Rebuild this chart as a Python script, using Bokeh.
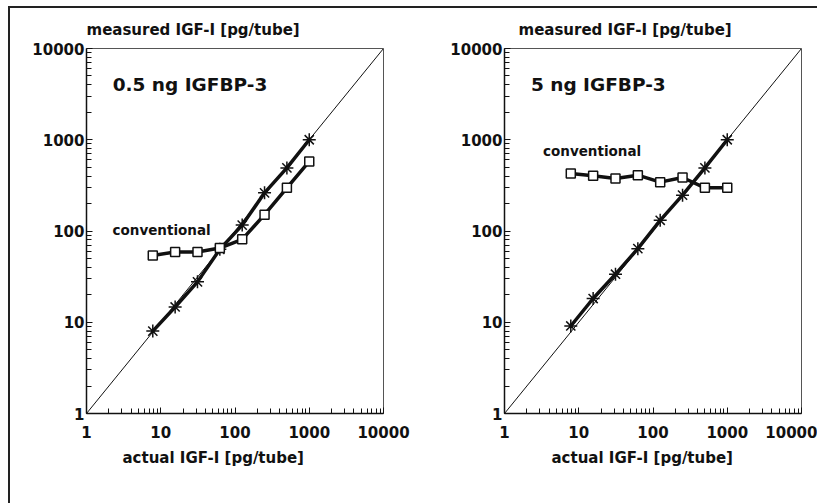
from bokeh.plotting import figure
from bokeh.layouts import row
from bokeh.models import FixedTicker, NumeralTickFormatter, Label, Title
from bokeh.embed import file_html
from bokeh.resources import INLINE

# ---------------- data ----------------
actual = [7.8125, 15.625, 31.25, 62.5, 125, 250, 500, 1000]

left_igfbp = [8.0, 14.7, 27.7, 63, 116, 262, 491, 1000]
left_conv = [54, 59, 59, 65, 81, 151, 297, 578]

right_igfbp = [9.1, 18.2, 33.6, 64, 131, 247, 491, 1000]
right_conv = [427, 402, 376, 409, 343, 386, 297, 297]

identity = [1, 10000]

major_ticks = [1, 10, 100, 1000, 10000]
minor_ticks = [2, 3, 4, 5, 6, 7, 8, 9,
               20, 30, 40, 50, 60, 70, 80, 90,
               200, 300, 400, 500, 600, 700, 800, 900,
               2000, 3000, 4000, 5000, 6000, 7000, 8000, 9000]

left_title = "0.5 ng IGFBP-3"
right_title = "5 ng IGFBP-3"
y_title = "measured IGF-I [pg/tube]"
x_title = "actual IGF-I [pg/tube]"
conv_text = "conventional"

FONT = "DejaVu Sans"
INK = "#111111"


def panel(width, b_left, b_right, ytitle_offset, xtitle_offset,
          label_text, label_pos, conv_pos, igfbp, conv, shadow):
    p = figure(width=width, height=495, x_axis_type="log", y_axis_type="log",
               x_range=(1, 10000), y_range=(1, 10000),
               output_backend="svg", toolbar_location=None,
               min_border_left=b_left, min_border_right=b_right,
               min_border_top=40, min_border_bottom=90,
               title=y_title,
               styles={"box-shadow": shadow, "outline": "none"})
    p.title.align = "left"
    p.title.offset = ytitle_offset
    p.title.text_font = FONT
    p.title.text_font_size = "15px"
    p.title.text_font_style = "bold"
    p.title.text_color = INK
    p.title.standoff = 19

    p.add_layout(Title(text=x_title, align="left", offset=xtitle_offset,
                       text_font=FONT, text_font_size="15px",
                       text_font_style="bold", text_color=INK, standoff=13),
                 "below")

    p.xgrid.visible = False
    p.ygrid.visible = False
    p.outline_line_color = "#555555"
    p.outline_line_width = 1
    p.background_fill_color = "white"
    p.border_fill_color = "white"

    for ax in (p.xaxis[0], p.yaxis[0]):
        ax.ticker = FixedTicker(ticks=major_ticks, minor_ticks=minor_ticks)
        ax.formatter = NumeralTickFormatter(format="0")
        ax.axis_line_color = INK
        ax.axis_line_width = 1.5
        ax.major_tick_in = 6
        ax.major_tick_out = 0
        ax.minor_tick_in = 5
        ax.minor_tick_out = 0
        ax.major_tick_line_color = INK
        ax.minor_tick_line_color = INK
        ax.major_label_text_font = FONT
        ax.major_label_text_font_size = "15px"
        ax.major_label_text_font_style = "bold"
        ax.major_label_text_color = INK
    p.xaxis.major_label_standoff = 12
    p.yaxis.major_label_standoff = 2

    # identity line
    p.line(identity, identity, line_color=INK, line_width=1)

    # data lines
    p.line(actual, igfbp, line_color=INK, line_width=3.5, line_join="round")
    p.line(actual, conv, line_color=INK, line_width=3.5, line_join="round")
    p.scatter(actual, igfbp, marker="asterisk", size=13, line_color=INK,
              line_width=1.5)
    p.scatter(actual, conv, marker="square", size=9, line_color=INK,
              fill_color="white", line_width=1.5)

    p.add_layout(Label(x=label_pos[0], y=label_pos[1], text=label_text,
                       text_font=FONT, text_font_size="18.5px",
                       text_font_style="bold", text_color=INK,
                       text_baseline="alphabetic"))
    p.add_layout(Label(x=conv_pos[0], y=conv_pos[1], text=conv_text,
                       text_font=FONT, text_font_size="13.5px",
                       text_font_style="bold", text_color=INK,
                       text_baseline="alphabetic"))
    return p


p1 = panel(420, 76, 47, 0, 36, left_title, (2.25, 4030), (2.24, 102),
           left_igfbp, left_conv, "-1px -1px 0px 1px #222222")
p2 = panel(387, 74, 16, 14, 47, right_title, (2.27, 4030), (3.3, 750),
           right_igfbp, right_conv, "0px -2px 0px 0px #222222")

layout = row(p1, p2, margin=(8, 0, 0, 10), styles={"outline": "none"})

open("out.html", "w").write(file_html(layout, INLINE))
